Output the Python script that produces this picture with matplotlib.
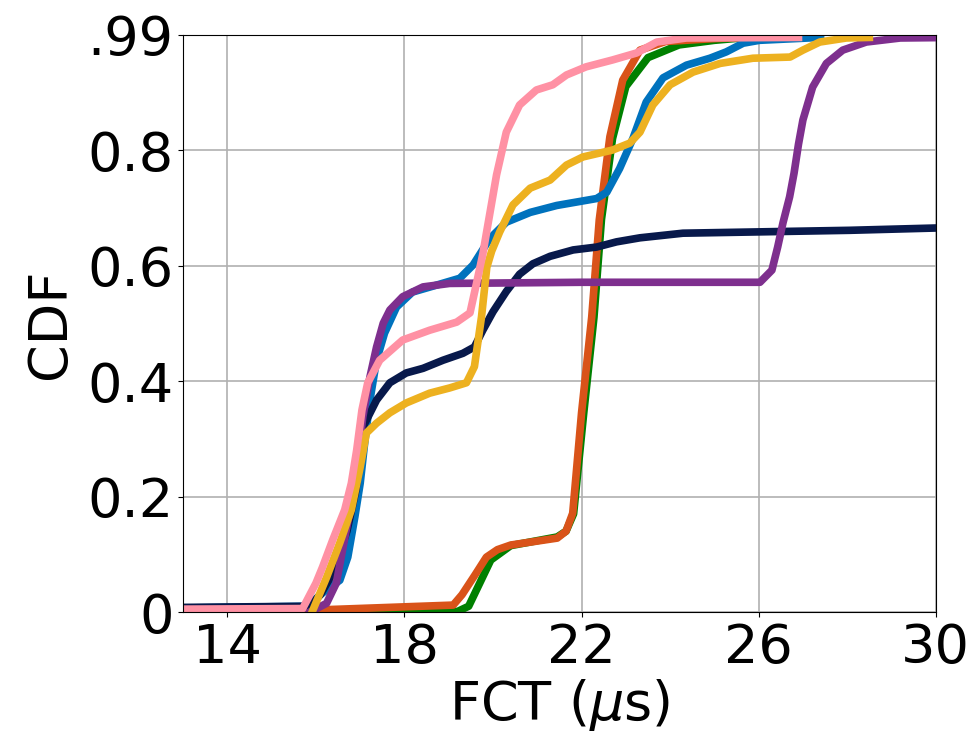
import matplotlib
matplotlib.use('Agg')
import matplotlib.pyplot as plt

# FCT (us) / CDF points, one pair of lists per curve
green_x = [13, 19.2, 19.45, 19.95, 20.4, 21.45, 21.65, 21.82, 22.05, 22.28, 22.45, 22.7, 23.0, 23.5, 24.2, 25.0, 25.6]
green_y = [0.0, 0.001, 0.01, 0.09, 0.115, 0.13, 0.14, 0.17, 0.345, 0.51, 0.68, 0.82, 0.91, 0.96, 0.982, 0.99, 0.994]

orange_x = [13, 16.2, 19.1, 19.3, 19.6, 19.85, 20.1, 20.4, 21.45, 21.65, 21.8, 22.0, 22.23, 22.4, 22.64, 22.93, 23.32, 23.9, 25.0, 25.6]
orange_y = [0.003, 0.004, 0.012, 0.03, 0.065, 0.095, 0.108, 0.116, 0.128, 0.14, 0.171, 0.345, 0.511, 0.679, 0.823, 0.921, 0.973, 0.988, 0.993, 0.995]

blue_x = [13, 15.8, 16.15, 16.54, 16.72, 16.88, 17.0, 17.1, 17.22, 17.37, 17.55, 17.82, 18.18, 18.72, 19.25,
          19.55, 19.93, 20.3, 20.84, 21.44, 22.34, 22.57, 22.86, 23.16, 23.46, 23.84, 24.37, 24.9, 25.27, 25.65, 26.02, 27.4]
blue_y = [0.007, 0.01, 0.033, 0.055, 0.095, 0.165, 0.223, 0.292, 0.367, 0.436, 0.483, 0.528, 0.554, 0.566, 0.578,
          0.601, 0.647, 0.675, 0.692, 0.704, 0.716, 0.727, 0.768, 0.82, 0.883, 0.925, 0.947, 0.959, 0.97, 0.985, 0.99, 0.995]

navy_x = [13, 15.86, 16.1, 16.4, 16.7, 16.9, 17.0, 17.06, 17.37, 17.67, 18.04, 18.42, 18.87, 19.32, 19.58, 19.77,
          20.0, 20.3, 20.6, 20.9, 21.29, 21.81, 22.34, 22.79, 23.32, 24.29, 25.8, 28.06, 30.5]
navy_y = [0.008, 0.01, 0.03, 0.07, 0.14, 0.21, 0.27, 0.32, 0.367, 0.397, 0.414, 0.422, 0.436, 0.448, 0.459, 0.488,
          0.52, 0.555, 0.585, 0.603, 0.616, 0.627, 0.632, 0.641, 0.648, 0.656, 0.658, 0.661, 0.666]

purple_x = [15.86, 16.24, 16.46, 16.6, 16.77, 16.92, 17.06, 17.22, 17.37, 17.52, 17.67, 17.96, 18.42, 19.02, 22.0,
            26.03, 26.3, 26.43, 26.55, 26.7, 26.8, 26.9, 27.0, 27.22, 27.53, 27.9, 28.43, 29.2, 30.5]
purple_y = [0.0, 0.015, 0.05, 0.107, 0.177, 0.251, 0.338, 0.407, 0.459, 0.5, 0.523, 0.546, 0.563, 0.569, 0.571,
            0.571, 0.592, 0.632, 0.674, 0.719, 0.76, 0.81, 0.852, 0.909, 0.95, 0.973, 0.987, 0.994, 0.995]

yellow_x = [15.93, 16.24, 16.54, 16.8, 17.0, 17.14, 17.37, 17.67, 18.04, 18.57, 19.02, 19.4, 19.58, 19.74, 19.86,
            19.97, 20.15, 20.45, 20.84, 21.29, 21.66, 22.03, 22.7, 23.09, 23.32, 23.61, 24.0, 24.52, 25.13, 25.87,
            26.71, 27.0, 27.38, 27.98, 28.5]
yellow_y = [0.003, 0.06, 0.12, 0.177, 0.251, 0.31, 0.327, 0.345, 0.362, 0.379, 0.388, 0.397, 0.425, 0.511, 0.597,
            0.625, 0.658, 0.705, 0.734, 0.748, 0.774, 0.788, 0.80, 0.812, 0.831, 0.878, 0.913, 0.935, 0.95, 0.959,
            0.961, 0.973, 0.987, 0.994, 0.995]

pink_x = [13, 15.7, 16.0, 16.15, 16.38, 16.65, 16.8, 16.92, 17.04, 17.17, 17.44, 17.96, 18.57, 19.18, 19.48, 19.63,
          19.77, 19.86, 20.08, 20.3, 20.6, 20.98, 21.35, 21.66, 22.1, 22.7, 23.24, 23.7, 24.37, 26.9]
pink_y = [0.005, 0.006, 0.05, 0.078, 0.125, 0.177, 0.223, 0.28, 0.35, 0.397, 0.436, 0.471, 0.488, 0.502, 0.518, 0.57,
          0.62, 0.66, 0.757, 0.831, 0.878, 0.904, 0.913, 0.93, 0.944, 0.956, 0.968, 0.987, 0.994, 0.995]

x_ticks = [14, 18, 22, 26, 30]
y_ticks = [0, 0.2, 0.4, 0.6, 0.8, 1.0]
y_tick_labels = ['0', '0.2', '0.4', '0.6', '0.8', '.99']

plt.rcParams['font.family'] = ['DejaVu Sans']
plt.rcParams['font.size'] = 39

fig = plt.figure(figsize=(9.74, 7.46), dpi=100)
ax = fig.add_axes([0.188, 0.1796, 0.7727, 0.7741])

lw = 5.5
ax.plot(green_x, green_y, color='#008000', lw=lw, solid_joinstyle='round')
ax.plot(orange_x, orange_y, color='#D95319', lw=lw, solid_joinstyle='round')
ax.plot(blue_x, blue_y, color='#0072BD', lw=lw, solid_joinstyle='round')
ax.plot(navy_x, navy_y, color='#08194B', lw=lw, solid_joinstyle='round')
ax.plot(purple_x, purple_y, color='#7E2F8E', lw=lw, solid_joinstyle='round')
ax.plot(yellow_x, yellow_y, color='#EDB120', lw=lw, solid_joinstyle='round')
ax.plot(pink_x, pink_y, color='#FF91A4', lw=lw, solid_joinstyle='round')

ax.set_xlim(13, 30)
ax.set_ylim(0, 1.0)
ax.set_xticks(x_ticks)
ax.set_yticks(y_ticks)
ax.set_yticklabels(y_tick_labels)
ax.grid(True, color='#b0b0b0', lw=1.2)
ax.set_axisbelow(True)
ax.set_xlabel(r'FCT ($\mu$s)', labelpad=2)
ax.set_ylabel('CDF', labelpad=8)

fig.savefig('out.png', dpi=100)
